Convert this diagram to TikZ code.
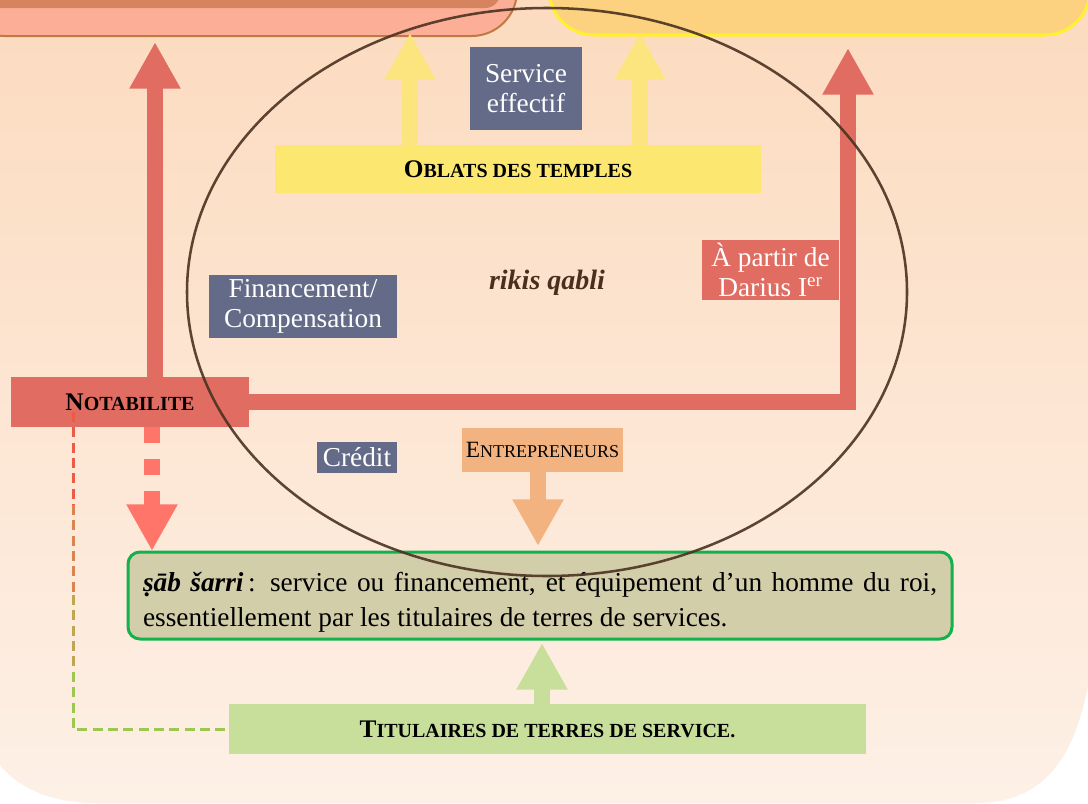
\documentclass[tikz,border=0pt]{standalone}
\usepackage{fontspec}
\setmainfont{Liberation Serif}
\usetikzlibrary{arrows.meta,calc}
\definecolor{bgtop}{HTML}{FCDBBF}
\definecolor{bgbot}{HTML}{FDF0E6}
\definecolor{salmonfill}{HTML}{FCAE97}
\definecolor{salmonline}{HTML}{BF7A44}
\definecolor{salmondark}{HTML}{D6835F}
\definecolor{goldfill}{HTML}{FCD17F}
\definecolor{goldline}{HTML}{FFF12E}
\definecolor{slate}{HTML}{646B88}
\definecolor{redbox}{HTML}{E06C62}
\definecolor{redbright}{HTML}{FF756A}
\definecolor{oblatfill}{HTML}{FCE870}
\definecolor{yelarrow}{HTML}{FCE47F}
\definecolor{orangefill}{HTML}{F2B381}
\definecolor{khaki}{HTML}{D3CEAA}
\definecolor{greenline}{HTML}{12B14C}
\definecolor{limefill}{HTML}{C8DF9B}
\definecolor{ellcol}{HTML}{4B3221}
\definecolor{rikcol}{HTML}{4A2F1E}
\definecolor{dashA}{HTML}{EE5A48}
\definecolor{dashB}{HTML}{DC8450}
\definecolor{dashC}{HTML}{C0A552}
\definecolor{dashD}{HTML}{9CC84F}
\newcommand\scbig[2]{{\fontsize{19}{20}\selectfont #1}{\fontsize{15}{16}\selectfont #2}}
\newcommand\screg[2]{{\fontsize{17.5}{20}\selectfont #1}{\fontsize{13.5}{16}\selectfont #2}}
\tikzset{
  lbl/.style={fill=slate, text=white, inner sep=0pt, align=center,
    font=\fontsize{20.5}{22.5}\selectfont},
  capbox/.style={inner sep=0pt, align=center, text=black},
  fatarrow/.style={line width=12pt, -{Triangle[width=36pt,length=35pt]}},
  thindash/.style={line width=2.25pt, dash pattern=on 7.5pt off 4pt},
}
\begin{document}
\begin{tikzpicture}[x=0.75pt,y=-0.75pt]
\useasboundingbox (0,0) rectangle (1088,803);
\fill[white] (0,0) rectangle (1088,803);
% background
\path[top color=bgtop, bottom color=bgbot]
  (0,0) -- (1088,0) -- (1088,685) .. controls (1072,770) and (1035,803) .. (975,803)
  -- (95,803) .. controls (55,803) and (20,790) .. (0,765) -- cycle;
% top boxes (partially visible)
\path[draw=salmonline, fill=salmonfill, line width=1.5pt, rounded corners=34pt]
  (-40,-70) rectangle (517,36);
\path[fill=salmondark, rounded corners=11pt] (-40,-70) rectangle (500,8);
\path[draw=goldline, fill=goldfill, line width=2.25pt, rounded corners=34pt]
  (549,-70) rectangle (1090,35);
% nodes
\node[capbox, fill=redbox, minimum width=178.5pt, minimum height=37.5pt] (notab) at (130,402)
  {\bfseries\scbig{N}{OTABILITE}};
\node[lbl, minimum width=84pt, minimum height=62.25pt] (service) at (526,88.5) {Service\\effectif};
\node[capbox, fill=oblatfill, minimum width=364.5pt, minimum height=36pt] (oblats) at (518,169)
  {\bfseries\scbig{O}{BLATS DES TEMPLES}};
\node[lbl, minimum width=141pt, minimum height=47.25pt] (financ) at (303,306.5) {Financement/\\Compensation};
\node[lbl, fill=redbox, minimum width=102.75pt, minimum height=45pt] (darius) at (770.5,270)
  {À partir de\\Darius I\textsuperscript{er}};
\node[lbl, minimum width=60pt, minimum height=23.25pt] (credit) at (357,457.5) {Crédit};
\node[capbox, fill=orangefill, minimum width=120.75pt, minimum height=33pt] (entre) at (542.5,449.5)
  {\screg{E}{NTREPRENEURS}};
\node[text=rikcol, font=\fontsize{21}{24}\selectfont\bfseries\itshape] (rikis) at (547,283) {rikis qabli};
\node[draw=greenline, line width=2.25pt, fill=khaki, rounded corners=9pt,
  minimum width=618pt, minimum height=65.25pt, text width=595.5pt, inner xsep=11.25pt,
  inner ysep=0pt, align=justify, font=\fontsize{20.5}{26}\selectfont] (sab) at (540,595.5)
  {\rule{0pt}{25pt}\textbf{\textit{ṣāb šarri}}\,: service ou financement, et équipement d’un homme du roi,\linebreak
   essentiellement par les titulaires de terres de services.};
\node[capbox, fill=limefill, minimum width=477.75pt, minimum height=37.5pt] (titul) at (547.5,729)
  {\bfseries\scbig{T}{ITULAIRES DE TERRES DE SERVICE.}};
% arrow tip coordinates
\coordinate (tipL) at (155,42);
\coordinate (tipR) at (848,48);
\coordinate (tipY1) at (410,33);
\coordinate (tipY2) at (640,33);
\coordinate (tipO) at (538,546);
\coordinate (tipG) at (542,643);
\coordinate (tipD) at (152,551);
% arrows
\draw[fatarrow, redbox] (notab.north -| tipL) -- (tipL);
\draw[fatarrow, redbox, line join=miter] (notab.east) -- (notab.east -| tipR) -- (tipR);
\draw[fatarrow, yelarrow] (oblats.north -| tipY1) -- (tipY1);
\draw[fatarrow, yelarrow] (oblats.north -| tipY2) -- (tipY2);
\draw[fatarrow, orangefill] (entre.south -| tipO) -- (tipO);
\draw[fatarrow, limefill] (titul.north -| tipG) -- (tipG);
\draw[fatarrow, redbright, dash pattern=on 12pt off 12pt] (notab.south -| tipD) -- (tipD);
% thin dashed link
\coordinate (d0) at (73,412);
\coordinate (d1) at (73,505);
\coordinate (d2) at (73,595);
\coordinate (d3) at (73,672);
\draw[thindash, dashA] (d0) -- (d1);
\draw[thindash, dashB] (d1) -- (d2);
\draw[thindash, dashC] (d2) -- (d3);
\draw[thindash, dashD] (d3) -- (d3 |- titul.west) -- (titul.west);
% ellipse
\draw[ellcol, line width=1.9pt, opacity=0.9] (547,292) ellipse [x radius=270pt, y radius=213pt];
\end{tikzpicture}
\end{document}
